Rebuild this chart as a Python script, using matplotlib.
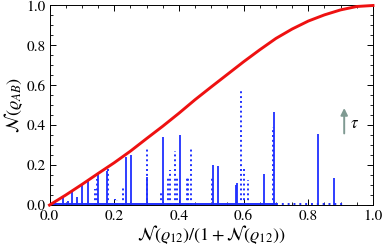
import matplotlib
matplotlib.use("Agg")
import matplotlib.pyplot as plt
from matplotlib.ticker import MultipleLocator

plt.rcParams['mathtext.fontset'] = 'stix'
plt.rcParams['font.family'] = ['STIXGeneral', 'DejaVu Serif']

# red bound curve
curve_x = [0, .05, .1, .15, .2, .25, .3, .35, .4, .45, .5, .55, .6, .65, .7, .75, .8, .85, .9, .95, 1.0]
curve_y = [0, .05, .103, .158, .212, .27, .333, .395, .46, .528, .592, .655, .718, .778, .835, .882, .922, .953, .978, .995, 1.0]

# blue spikes: dense (drawn solid) and sparse (drawn dotted)
dense_x = [0.017, 0.043, 0.058, 0.069, 0.084, 0.10, 0.12, 0.151, 0.177, 0.236, 0.251, 0.30,
           0.352, 0.403, 0.506, 0.52, 0.575, 0.58, 0.664, 0.695, 0.831, 0.879]
dense_h = [0.017, 0.04, 0.02, 0.075, 0.04, 0.10, 0.12, 0.16, 0.17, 0.24, 0.25, 0.14,
           0.343, 0.352, 0.20, 0.195, 0.10, 0.11, 0.154, 0.464, 0.355, 0.137]
sparse_x = [0.14, 0.146, 0.182, 0.2025, 0.21, 0.228, 0.30, 0.345, 0.365, 0.373, 0.388, 0.393,
            0.424, 0.428, 0.437, 0.501, 0.591, 0.602, 0.613, 0.692]
sparse_h = [0.08, 0.13, 0.19, 0.03, 0.025, 0.085, 0.293, 0.064, 0.137, 0.176, 0.271, 0.14,
            0.137, 0.146, 0.293, 0.134, 0.57, 0.193, 0.126, 0.39]
base_dense = [0.0, 0.70]
base_sparse = [0.70, 0.91]

fig = plt.figure(figsize=(3.82, 2.45), dpi=100)
ax = fig.add_axes([0.1296, 0.163, 0.8468, 0.8146])

blue = '#1f2fff'
ax.vlines(dense_x, 0, dense_h, colors=blue, linewidth=1.3, clip_on=False)
ax.vlines(sparse_x, 0, sparse_h, colors=blue, linewidth=1.4, linestyles=(0, (1, 1.5)), clip_on=False)
ax.hlines(0.005, base_dense[0], base_dense[1], colors=blue, linewidth=1.4, clip_on=False)
ax.hlines(0.005, base_sparse[0], base_sparse[1], colors=blue, linewidth=1.4,
          linestyles=(0, (1, 2)), clip_on=False)

ax.plot(curve_x, curve_y, color='#ee1111', linewidth=2.1, clip_on=False, zorder=5)

ax.annotate('', xy=(0.911, 0.50), xytext=(0.911, 0.345),
            arrowprops=dict(arrowstyle='-|>', color='#7f9a92', lw=1.4, mutation_scale=10))
ax.text(0.93, 0.405, r'$\tau$', fontsize=12, va='center', ha='left')

ax.set_xlim(0, 1)
ax.set_ylim(0, 1)
ax.xaxis.set_major_locator(MultipleLocator(0.2))
ax.yaxis.set_major_locator(MultipleLocator(0.2))
ax.xaxis.set_minor_locator(MultipleLocator(0.05))
ax.yaxis.set_minor_locator(MultipleLocator(0.05))
ax.xaxis.set_major_formatter(plt.FuncFormatter(lambda v, p: f'{v:.1f}'))
ax.yaxis.set_major_formatter(plt.FuncFormatter(lambda v, p: f'{v:.1f}'))
ax.tick_params(which='both', direction='in', top=True, right=True, labelsize=11)
ax.tick_params(axis='x', pad=3)
ax.tick_params(axis='y', pad=3)
ax.tick_params(which='major', length=4, width=0.7)
ax.tick_params(which='minor', length=2.2, width=0.6)
for s in ax.spines.values():
    s.set_linewidth(0.7)

ax.set_xlabel(r'$\mathcal{N}(\varrho_{12})/(1+\mathcal{N}(\varrho_{12}))$', fontsize=13, labelpad=0)
ax.set_ylabel(r'$\mathcal{N}(\varrho_{AB})$', fontsize=13, labelpad=1)

fig.savefig('out.png', dpi=100)
